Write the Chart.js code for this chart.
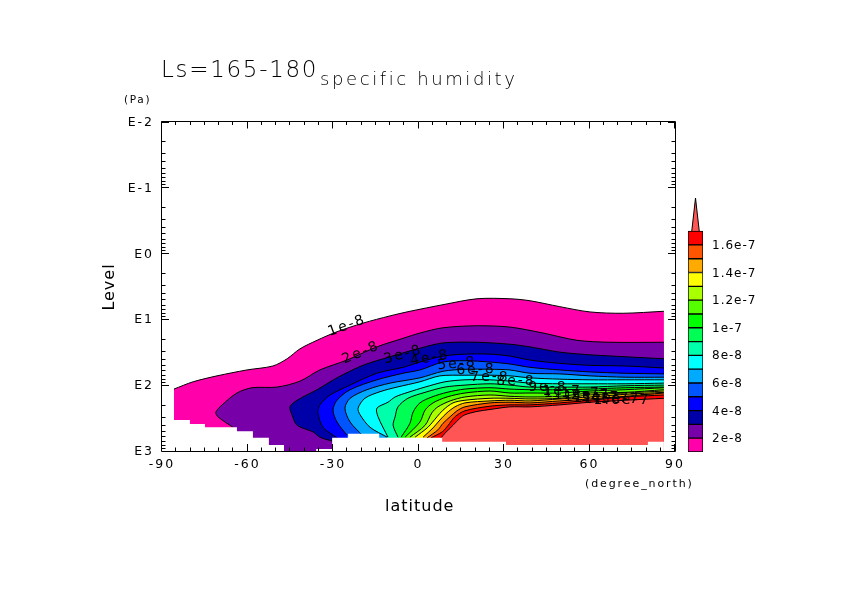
<!DOCTYPE html>
<html>
<head>
<meta charset="utf-8">
<title>specific humidity</title>
<script src="https://cdn.jsdelivr.net/npm/chart.js@4/dist/chart.umd.min.js"></script>
<style>
  body { margin: 0; background: #fff; }
  #canvass { position: absolute; left: 0; top: 0; }
  #colorbar { position: absolute; left: 670px; top: 190px; }
</style>
</head>
<body>
<canvas id="canvass" width="842" height="595"></canvas>
<canvas id="colorbar" width="100" height="270"></canvas>
<script>
// contour values (kg/kg) and band colours, lowest first
var contourLevels = [1e-8, 2e-8, 3e-8, 4e-8, 5e-8, 6e-8, 7e-8, 8e-8, 9e-8, 1e-7, 1.1e-7, 1.2e-7, 1.3e-7, 1.4e-7, 1.5e-7, 1.6e-7, 1.7e-7];
var bandColors = ["#ff00aa", "#7800a8", "#0000a8", "#0000ff", "#0055ff", "#00aaff", "#00ffff", "#00ffaa", "#00ff55", "#00ff00", "#55ff00", "#aaff00", "#ffff00", "#ffaa00", "#ff5500", "#ff0000", "#ff5555"];

// contour lines: [latitude, log10(pressure in Pa)]
var c1 = [[-85.8,2.06],[-79.1,1.95],[-70.7,1.86],[-60.2,1.77],[-51.1,1.71],[-46.1,1.60],[-41.6,1.45],[-35.6,1.32],[-28.6,1.19],[-19.5,1.06],[-10.0,0.95],[-3.0,0.88],[8.6,0.78],[20.5,0.69],[32.1,0.69],[39.1,0.72],[49.6,0.81],[60.2,0.89],[71.8,0.91],[86.1,0.88]];
var c2 = [[-65.1,2.64],[-70.4,2.48],[-71.1,2.41],[-68.9,2.30],[-63.7,2.12],[-58.4,2.04],[-49.6,2.03],[-41.6,1.94],[-34.6,1.77],[-25.1,1.62],[-14.6,1.42],[-5.4,1.29],[0.5,1.21],[8.6,1.13],[20.5,1.10],[32.1,1.12],[43.7,1.21],[55.6,1.32],[67.2,1.35],[86.1,1.35]];
var c3 = [[-30.3,2.85],[-34.6,2.79],[-37.0,2.71],[-42.6,2.61],[-44.4,2.45],[-45.1,2.33],[-42.6,2.23],[-35.6,2.07],[-28.6,1.89],[-19.5,1.70],[-10.0,1.57],[0.5,1.44],[8.6,1.36],[20.5,1.35],[32.1,1.38],[39.1,1.42],[49.6,1.50],[60.2,1.54],[72.5,1.57],[86.1,1.60]];
var c4 = [[-28.6,2.80],[-33.5,2.64],[-35.3,2.42],[-34.6,2.30],[-31.0,2.15],[-24.0,2.00],[-14.6,1.82],[-5.4,1.73],[0.5,1.65],[8.6,1.56],[16.3,1.53],[25.1,1.53],[32.1,1.56],[39.1,1.62],[49.6,1.67],[60.2,1.70],[72.5,1.71],[86.1,1.74]];
var c5 = [[-25.1,2.76],[-28.6,2.56],[-30.0,2.38],[-28.6,2.23],[-24.0,2.07],[-14.6,1.92],[-5.4,1.82],[0.5,1.77],[8.6,1.65],[16.3,1.63],[25.1,1.65],[32.1,1.68],[39.1,1.73],[49.6,1.77],[60.2,1.80],[72.5,1.82],[86.1,1.83]];
var c6 = [[-19.5,2.77],[-24.0,2.56],[-25.8,2.35],[-24.0,2.20],[-18.1,2.07],[-10.0,1.97],[0.5,1.89],[8.6,1.79],[16.3,1.76],[25.1,1.76],[32.1,1.77],[39.1,1.82],[49.6,1.83],[60.2,1.86],[72.5,1.88],[86.1,1.88]];
var c7 = [[-11.0,2.79],[-17.0,2.64],[-20.5,2.45],[-21.2,2.35],[-18.8,2.20],[-13.5,2.10],[-7.5,2.03],[0.5,1.95],[7.5,1.86],[16.3,1.85],[25.1,1.85],[32.1,1.86],[39.1,1.89],[49.6,1.91],[60.2,1.92],[72.5,1.92],[86.1,1.92]];
var c8 = [[-10.7,2.79],[-14.2,2.48],[-14.6,2.35],[-10.7,2.26],[-8.2,2.18],[-3.7,2.11],[2.3,2.03],[9.3,1.95],[16.3,1.92],[25.1,1.92],[32.1,1.94],[39.1,1.97],[49.6,1.98],[60.2,1.98],[72.5,1.98],[86.1,1.97]];
var c9 = [[-7.2,2.79],[-8.9,2.61],[-8.2,2.48],[-7.2,2.33],[-3.7,2.20],[2.3,2.11],[9.3,2.03],[16.3,2.00],[25.1,1.98],[32.1,2.00],[39.1,2.03],[49.6,2.03],[60.2,2.03],[72.5,2.01],[86.1,2.00]];
var c10 = [[-6.1,2.79],[-3.0,2.58],[-1.9,2.41],[0.5,2.27],[4.7,2.18],[10.0,2.11],[16.3,2.06],[25.1,2.04],[32.1,2.06],[39.1,2.07],[49.6,2.07],[60.2,2.06],[72.5,2.04],[86.1,2.03]];
var c11 = [[-4.7,2.79],[0.5,2.56],[2.3,2.38],[5.1,2.27],[10.0,2.18],[16.3,2.12],[25.1,2.09],[32.1,2.12],[39.1,2.12],[49.6,2.12],[60.2,2.09],[72.5,2.07],[86.1,2.04]];
var c12 = [[-3.0,2.79],[2.3,2.61],[4.7,2.42],[6.8,2.33],[11.1,2.24],[16.3,2.18],[25.1,2.15],[32.1,2.17],[39.1,2.18],[49.6,2.17],[60.2,2.12],[72.5,2.11],[86.1,2.07]];
var c13 = [[-1.2,2.79],[3.3,2.64],[6.5,2.48],[8.6,2.38],[12.1,2.27],[16.3,2.23],[25.1,2.20],[32.1,2.20],[39.1,2.21],[49.6,2.20],[60.2,2.15],[72.5,2.12],[86.1,2.09]];
var c14 = [[1.6,2.79],[5.1,2.65],[7.5,2.53],[10.0,2.42],[12.8,2.33],[16.3,2.27],[25.1,2.24],[32.1,2.23],[39.1,2.24],[49.6,2.21],[60.2,2.18],[72.5,2.14],[86.1,2.11]];
var c15 = [[3.0,2.80],[6.8,2.68],[8.6,2.58],[11.1,2.48],[13.5,2.39],[16.3,2.33],[25.1,2.27],[32.1,2.26],[39.1,2.27],[49.6,2.24],[60.2,2.21],[72.5,2.17],[86.1,2.12]];
var c16 = [[4.4,2.80],[8.3,2.71],[10.4,2.61],[12.8,2.48],[16.3,2.39],[25.1,2.32],[32.1,2.30],[39.1,2.30],[49.6,2.27],[60.2,2.23],[72.5,2.18],[86.1,2.15]];
var c17 = [[7.9,2.80],[9.3,2.73],[12.1,2.61],[14.6,2.50],[16.3,2.45],[20.5,2.40],[25.1,2.37],[32.1,2.33],[39.1,2.33],[49.6,2.30],[60.2,2.26],[72.5,2.23],[86.1,2.20]];
var contourLines = [c1, c2, c3, c4, c5, c6, c7, c8, c9, c10, c11, c12, c13, c14, c15, c16, c17];

// the ground: no data below this stair line
var groundMask = [[-85.8,2.53],[-80.2,2.53],[-80.2,2.59],[-74.9,2.59],[-74.9,2.64],[-63.7,2.64],[-63.7,2.70],[-58.1,2.70],[-58.1,2.80],[-52.5,2.80],[-52.5,2.91],[-47.2,2.91],[-47.2,3],[-35.9,3],[-35.9,2.97],[-30.3,2.97],[-30.3,2.80],[-24.7,2.80],[-24.7,2.74],[-13.8,2.74],[-13.8,2.80],[8.3,2.80],[8.3,2.86],[30.7,2.86],[30.7,2.91],[80.5,2.91],[80.5,2.86],[86.1,2.86],[86.1,3],[-85.8,3]];

// labels sitting on the contours
var contourLabelText = ["1e-8", "2e-8", "3e-8", "4e-8", "5e-8", "6e-8", "7e-8", "8e-8", "9e-8", "1e-7", "1.1e-7", "1.2e-7", "1.3e-7", "1.4e-7", "1.5e-7", "1.6e-7"];
var contourLabelLat = [-25.1, -20.2, -5.4, 4.0, 13.5, 20.2, 25.1, 34.2, 45.4, 50.4, 53.9, 57.4, 60.9, 64.4, 67.9, 71.4];
var contourLabelLevel = [1.10, 1.51, 1.54, 1.59, 1.68, 1.77, 1.88, 1.95, 2.03, 2.10, 2.13, 2.16, 2.18, 2.20, 2.21, 2.23];
var contourLabelAngle = [-20, -23, -15, -10, -5, -2, 0, 0, 0, 0, 0, 0, 0, 0, 0, 0];

// axes
var latMajorTicks = [-90, -60, -30, 0, 30, 60, 90];
var latMinorTicks = [-85, -80, -75, -70, -65, -55, -50, -45, -40, -35, -25, -20, -15, -10, -5, 5, 10, 15, 20, 25, 35, 40, 45, 50, 55, 65, 70, 75, 80, 85];
var levelExponents = [-2, -1, 0, 1, 2, 3];
var levelMinorSteps = [2, 3, 4, 5, 6, 7, 8, 9];

// colour bar
var colorbarTicks = [2e-8, 4e-8, 6e-8, 8e-8, 1e-7, 1.2e-7, 1.4e-7, 1.6e-7];
var colorbarLabels = ["2e-8", "4e-8", "6e-8", "8e-8", "1e-7", "1.2e-7", "1.4e-7", "1.6e-7"];
var colorbarArrowTip = 1.94e-7;

var FONT = '"DejaVu Sans", sans-serif';
var CURVE = 0.3;

function toPoint(p) {
    return { x: p[0], y: Math.pow(10, p[1]) };
}

// one closed polygon per contour, painted from the lowest value up,
// with the contour itself as a second dataset so the closing edges stay unstroked.
// ends and corners are doubled so the curve tension leaves the closing edges straight
var datasets = [];
contourLines.forEach(function (line, i) {
    var first = line[0], last = line[line.length - 1];
    var closed = line.map(toPoint);
    closed.push(toPoint(last));
    closed.push({ x: last[0], y: 1000 }, { x: last[0], y: 1000 });
    closed.push({ x: first[0], y: 1000 }, { x: first[0], y: 1000 });
    closed.push(toPoint(first));
    datasets.push({
        data: closed,
        showLine: true,
        fill: 'shape',
        tension: CURVE,
        pointRadius: 0,
        borderWidth: 0,
        backgroundColor: bandColors[i],
        order: 200 - 2 * i
    });
    datasets.push({
        data: line.map(toPoint),
        showLine: true,
        fill: false,
        tension: CURVE,
        pointRadius: 0,
        borderWidth: 1,
        borderColor: '#000',
        order: 199 - 2 * i
    });
});
datasets.push({
    data: groundMask.map(toPoint),
    showLine: true,
    fill: 'shape',
    tension: 0,
    pointRadius: 0,
    borderWidth: 0,
    backgroundColor: '#fff',
    order: 10
});

var latTicks = latMajorTicks.concat(latMinorTicks);
var levelTicks = [];
levelExponents.forEach(function (e) {
    levelTicks.push(Math.pow(10, e));
    if (e < 3) {
        levelMinorSteps.forEach(function (m) { levelTicks.push(m * Math.pow(10, e)); });
    }
});

function isDecade(v) {
    var e = Math.log10(v);
    return Math.abs(e - Math.round(e)) < 1e-6;
}

function text(ctx, str, x, y, size, spacing, align, weight) {
    ctx.font = (weight || 400) + ' ' + size + 'px ' + FONT;
    ctx.letterSpacing = spacing + 'px';
    ctx.textAlign = align || 'left';
    ctx.fillText(str, x, y);
}

// frame with inward ticks on all four sides, contour labels, titles
var framePlugin = {
    id: 'frame',
    beforeDraw: function (chart) {
        chart.ctx.letterSpacing = '2px';
    },
    afterDraw: function (chart) {
        var ctx = chart.ctx, a = chart.chartArea;
        var xs = chart.scales.x, ys = chart.scales.y;
        ctx.save();
        ctx.fillStyle = '#000';
        ctx.textBaseline = 'middle';
        contourLabelText.forEach(function (s, i) {
            ctx.save();
            ctx.translate(xs.getPixelForValue(contourLabelLat[i]), ys.getPixelForValue(Math.pow(10, contourLabelLevel[i])));
            ctx.rotate(contourLabelAngle[i] * Math.PI / 180);
            text(ctx, s, 0, 0, 14, 2, 'center');
            ctx.restore();
        });

        ctx.strokeStyle = '#000';
        ctx.lineWidth = 1;
        ctx.beginPath();
        ctx.rect(a.left - 0.5, a.top, a.right - a.left + 1, a.bottom - a.top + 0.5);
        latTicks.forEach(function (v) {
            var px = Math.round(xs.getPixelForValue(v)) - 0.5;
            var len = latMajorTicks.indexOf(v) >= 0 ? 7 : 3.5;
            ctx.moveTo(px, a.bottom);
            ctx.lineTo(px, a.bottom - len);
            ctx.moveTo(px, a.top);
            ctx.lineTo(px, a.top + len);
        });
        levelTicks.forEach(function (v) {
            var py = Math.round(ys.getPixelForValue(v)) + 0.5;
            var len = isDecade(v) ? 7 : 3.5;
            ctx.moveTo(a.left, py);
            ctx.lineTo(a.left + len, py);
            ctx.moveTo(a.right, py);
            ctx.lineTo(a.right - len, py);
        });
        ctx.stroke();

        ctx.textBaseline = 'alphabetic';
        text(ctx, 'Ls=165-180', 161, 77, 23, 1.7, 'left', 200);
        text(ctx, 'specific humidity', 320, 85, 18, 2.6, 'left', 200);
        text(ctx, '(Pa)', 124, 103, 10.5, 1.7);
        text(ctx, '(degree_north)', 585, 487, 11, 1.9);
        text(ctx, 'latitude', 385, 511, 16, 1);
        ctx.save();
        ctx.translate(114, 287);
        ctx.rotate(-Math.PI / 2);
        text(ctx, 'Level', 0, 0, 16, 1, 'center');
        ctx.restore();
        ctx.restore();
    }
};

var ctx = document.getElementById('canvass').getContext('2d');
var myChart = new Chart(ctx, {
    type: 'scatter',
    data: { datasets: datasets },
    plugins: [framePlugin],
    options: {
        responsive: false,
        animation: false,
        devicePixelRatio: 1,
        layout: { padding: { top: 121.5, right: 167 } },
        plugins: { legend: { display: false }, title: { display: false }, tooltip: { enabled: false } },
        scales: {
            x: {
                type: 'linear',
                min: -90,
                max: 90,
                grid: { display: false, drawTicks: false },
                border: { display: false },
                afterFit: function (scale) { scale.height = 144; },
                afterBuildTicks: function (scale) {
                    scale.ticks = latTicks.slice().sort(function (a, b) { return a - b; }).map(function (v) { return { value: v }; });
                },
                ticks: {
                    autoSkip: false,
                    maxRotation: 0,
                    minRotation: 0,
                    padding: 6,
                    color: '#000',
                    font: { family: 'DejaVu Sans', size: 12.5 },
                    callback: function (v) { return latMajorTicks.indexOf(v) >= 0 ? String(v) : ''; }
                }
            },
            y: {
                type: 'logarithmic',
                reverse: true,
                min: 0.01,
                max: 1000,
                grid: { display: false, drawTicks: false },
                border: { display: false },
                afterFit: function (scale) { scale.width = 162; },
                afterBuildTicks: function (scale) {
                    scale.ticks = levelTicks.slice().sort(function (a, b) { return a - b; }).map(function (v) { return { value: v }; });
                },
                ticks: {
                    autoSkip: false,
                    padding: 8,
                    labelOffset: 1,
                    color: '#000',
                    font: { family: 'DejaVu Sans', size: 12.5 },
                    callback: function (v) { return isDecade(v) ? 'E' + Math.round(Math.log10(v)) : ''; }
                }
            }
        }
    }
});

// colour bar: one floating bar per band, triangle for values above the last contour
var barSets = [];
for (var i = 0; i < contourLevels.length - 1; i++) {
    barSets.push({
        type: 'bar',
        data: [{ x: 0.5, y: [contourLevels[i], contourLevels[i + 1]] }],
        backgroundColor: bandColors[i],
        borderColor: '#000',
        borderWidth: 1,
        borderSkipped: false,
        barThickness: 15,
        grouped: false
    });
}
barSets.push({
    type: 'line',
    data: [
        { x: 0, y: contourLevels[contourLevels.length - 1] },
        { x: 0.5, y: colorbarArrowTip },
        { x: 1, y: contourLevels[contourLevels.length - 1] }
    ],
    fill: 'shape',
    tension: 0,
    pointRadius: 0,
    borderWidth: 1,
    borderColor: '#000',
    backgroundColor: bandColors[bandColors.length - 1],
    clip: false
});

var colorbar = new Chart(document.getElementById('colorbar').getContext('2d'), {
    data: { datasets: barSets },
    plugins: [{
        id: 'spacing',
        beforeDraw: function (chart) { chart.ctx.letterSpacing = '1px'; }
    }],
    options: {
        responsive: false,
        animation: false,
        devicePixelRatio: 1,
        layout: { padding: { left: 18, top: 8, bottom: 8 } },
        plugins: { legend: { display: false }, tooltip: { enabled: false } },
        scales: {
            x: { type: 'linear', min: 0, max: 1, display: false },
            y: {
                type: 'linear',
                position: 'right',
                min: contourLevels[0],
                max: colorbarArrowTip,
                grid: { display: false, drawTicks: false },
                border: { display: false },
                afterFit: function (scale) {
                    scale.width = 67;
                    scale.paddingTop = 0;
                    scale.paddingBottom = 0;
                },
                afterBuildTicks: function (scale) {
                    scale.ticks = colorbarTicks.map(function (v) { return { value: v }; });
                },
                ticks: {
                    autoSkip: false,
                    padding: 9,
                    labelOffset: 1,
                    color: '#000',
                    font: { family: 'DejaVu Sans', size: 12 },
                    callback: function (v, idx) { return colorbarLabels[idx]; }
                }
            }
        }
    }
});
</script>
</body>
</html>
